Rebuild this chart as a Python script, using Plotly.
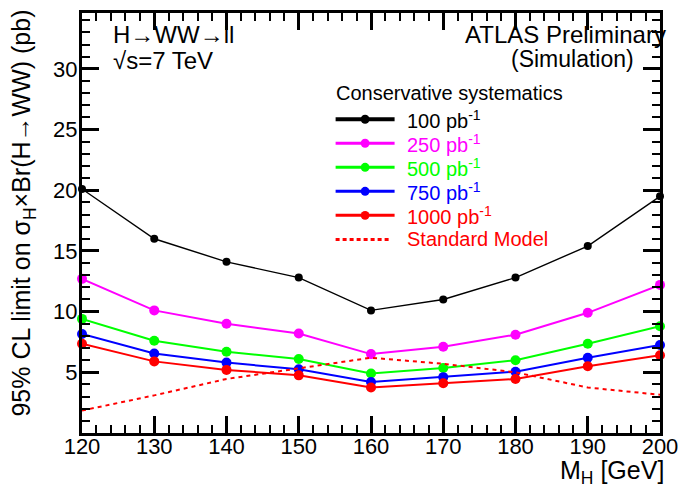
import plotly.graph_objects as go

# Higgs mass points (GeV)
mass = [120, 130, 140, 150, 160, 170, 180, 190, 200]

# 95% CL expected limits on sigma_H x Br(H->WW) in pb, per integrated luminosity
limit_100 = [20.1, 16.0, 14.1, 12.8, 10.1, 11.0, 12.8, 15.4, 19.5]
limit_250 = [12.7, 10.1, 9.0, 8.2, 6.5, 7.1, 8.1, 9.9, 12.2]
limit_500 = [9.4, 7.6, 6.7, 6.1, 4.9, 5.35, 6.0, 7.35, 8.8]
limit_750 = [8.15, 6.55, 5.8, 5.25, 4.2, 4.6, 5.05, 6.2, 7.25]
limit_1000 = [7.35, 5.9, 5.2, 4.75, 3.75, 4.1, 4.45, 5.5, 6.4]

# Standard Model cross section times branching ratio (pb)
sm_xsec = [1.85, 3.1, 4.45, 5.3, 6.2, 5.7, 5.0, 3.75, 3.15]

# tick labels
x_ticks = mass
y_ticks = [5, 10, 15, 20, 25, 30]

series = [
    ("100 pb<sup>-1</sup>", limit_100, "#000000", 1.4, 8),
    ("250 pb<sup>-1</sup>", limit_250, "#ff00ff", 2.0, 10),
    ("500 pb<sup>-1</sup>", limit_500, "#00ff00", 2.0, 10),
    ("750 pb<sup>-1</sup>", limit_750, "#0000ff", 2.0, 10),
    ("1000 pb<sup>-1</sup>", limit_1000, "#ff0000", 2.0, 10),
]
sm_label = "Standard Model"
sm_color = "#ff0000"

FONT = "Liberation Sans, Arial, Helvetica, sans-serif"

fig = go.Figure()
for label, values, color, lw, ms in series:
    fig.add_trace(go.Scatter(
        x=mass, y=values, mode="lines+markers", name=label,
        line=dict(color=color, width=lw),
        marker=dict(color=color, size=ms, symbol="circle"),
        cliponaxis=False, showlegend=False,
    ))

fig.add_trace(go.Scatter(
    x=mass, y=sm_xsec, mode="lines", name=sm_label,
    line=dict(color=sm_color, width=2, dash="4px,4px"),
    cliponaxis=False, showlegend=False,
))

axis_common = dict(
    showline=True, linecolor="black", linewidth=3,
    mirror="ticks", ticks="inside", tickcolor="black", tickwidth=2.5,
    showgrid=False, zeroline=False, ticklabeloverflow="allow",
    tickfont=dict(family=FONT, size=22, color="black"),
)

fig.update_xaxes(
    range=[120, 200], tickmode="array",
    tickvals=x_ticks, ticktext=[str(v) for v in x_ticks],
    ticklen=17, ticklabelstandoff=-8,
    minor=dict(ticks="inside", ticklen=8, dtick=2, tick0=120,
               tickcolor="black", tickwidth=2),
    **axis_common,
)
fig.update_yaxes(
    range=[0, 34.6], tickmode="array",
    tickvals=y_ticks, ticktext=[str(v) for v in y_ticks],
    ticklen=17, ticklabelstandoff=-3,
    minor=dict(ticks="inside", ticklen=8, dtick=1, tick0=0,
               tickcolor="black", tickwidth=2),
    **axis_common,
)

# plot-area geometry in pixels, used to place the hand-built legend
L, T, W, H = 82, 10, 588, 423


def px_x(p):
    return (p - L) / W


def px_y(p):
    return (T + H - p) / H


annotations = [
    dict(text="M<sub>H</sub> [GeV]", x=px_x(676), y=px_y(454), xref="paper", yref="paper",
         xanchor="right", yanchor="top", showarrow=False,
         font=dict(family=FONT, size=25, color="black")),
    dict(text="95% CL limit on σ<sub>H</sub>×Br(H→WW) (pb)", textangle=-90,
         x=px_x(22), y=px_y(212), xref="paper", yref="paper",
         xanchor="center", yanchor="middle", showarrow=False,
         font=dict(family=FONT, size=25, color="black")),
    dict(text="H→WW→ll", x=px_x(111), y=px_y(16), xref="paper", yref="paper",
         xanchor="left", yanchor="top", showarrow=False,
         font=dict(family=FONT, size=24, color="black")),
    dict(text="√s=7 TeV", x=px_x(111), y=px_y(42), xref="paper", yref="paper",
         xanchor="left", yanchor="top", showarrow=False,
         font=dict(family=FONT, size=24, color="black")),
    dict(text="ATLAS Preliminary", x=px_x(678), y=px_y(16), xref="paper", yref="paper",
         xanchor="right", yanchor="top", showarrow=False,
         font=dict(family=FONT, size=24, color="black")),
    dict(text="(Simulation)", x=px_x(646), y=px_y(41), xref="paper", yref="paper",
         xanchor="right", yanchor="top", showarrow=False,
         font=dict(family=FONT, size=23, color="black")),
    dict(text="Conservative systematics", x=px_x(338), y=px_y(91), xref="paper", yref="paper",
         xanchor="left", yanchor="middle", showarrow=False,
         font=dict(family=FONT, size=20, color="black")),
]

# legend: one row per luminosity plus the Standard Model curve
shapes = []
row0, row_step = 117, 24.2
key_x0, key_x1, text_x = 340, 400, 411
for i, (label, _, color, _, _) in enumerate(series):
    yc = row0 + i * row_step
    shapes.append(dict(type="line", xref="paper", yref="paper",
                       x0=px_x(key_x0), x1=px_x(key_x1), y0=px_y(yc), y1=px_y(yc),
                       line=dict(color=color, width=4 if i == 0 else 3)))
    mx = (key_x0 + key_x1) / 2
    shapes.append(dict(type="circle", xref="paper", yref="paper",
                       x0=px_x(mx - 4.5), x1=px_x(mx + 4.5),
                       y0=px_y(yc + 4.5), y1=px_y(yc - 4.5),
                       fillcolor=color, line=dict(color=color, width=0)))
    annotations.append(dict(text=label, x=px_x(text_x), y=px_y(yc),
                            xref="paper", yref="paper", xanchor="left", yanchor="middle",
                            showarrow=False, font=dict(family=FONT, size=20, color=color)))
yc = row0 + len(series) * row_step
shapes.append(dict(type="line", xref="paper", yref="paper",
                   x0=px_x(key_x0), x1=px_x(key_x1 - 6), y0=px_y(yc), y1=px_y(yc),
                   line=dict(color=sm_color, width=3, dash="4px,3px")))
annotations.append(dict(text=sm_label, x=px_x(text_x), y=px_y(yc),
                        xref="paper", yref="paper", xanchor="left", yanchor="middle",
                        showarrow=False, font=dict(family=FONT, size=20, color=sm_color)))

fig.update_layout(
    width=688, height=487,
    margin=dict(l=L, r=688 - L - W, t=T, b=487 - T - H),
    paper_bgcolor="white", plot_bgcolor="white",
    font=dict(family=FONT, color="black"),
    annotations=annotations,
    shapes=shapes,
    showlegend=False,
)

fig.write_html("out.html")
